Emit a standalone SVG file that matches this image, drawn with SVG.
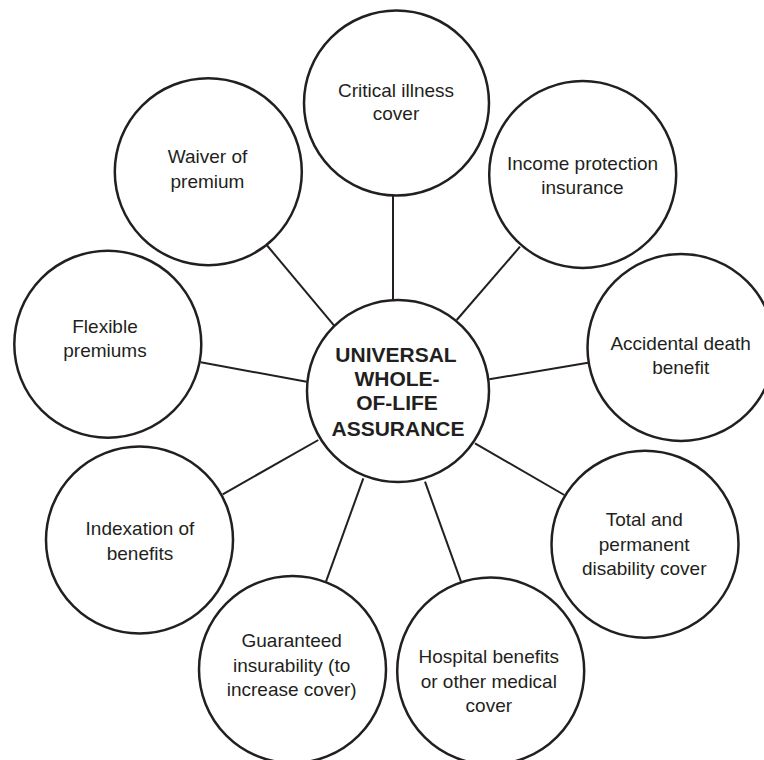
<svg xmlns="http://www.w3.org/2000/svg" width="764" height="760" viewBox="0 0 764 760">
<style>
.node circle{fill:#fff;stroke:#231f20;stroke-width:2.5}
.lbl{font-family:"Liberation Sans",Arial,sans-serif;font-size:19px;fill:#231f20;text-anchor:middle}
.hub{font-family:"Liberation Sans",Arial,sans-serif;font-size:21px;font-weight:bold;fill:#231f20;text-anchor:middle}
#connectors line{stroke:#231f20;stroke-width:2}
</style>
<rect width="764" height="760" fill="#fff"/>
<g id="connectors">
<line x1="393" y1="195" x2="393" y2="301"/>
<line x1="520" y1="246.7" x2="456.7" y2="320"/>
<line x1="588" y1="362.7" x2="489.3" y2="379.3"/>
<line x1="564.3" y1="495" x2="475" y2="443.3"/>
<line x1="461" y1="581.7" x2="425" y2="481.7"/>
<line x1="326" y1="581.7" x2="363.3" y2="478.3"/>
<line x1="222.7" y1="494.3" x2="318.3" y2="440"/>
<line x1="200.7" y1="362.3" x2="306.7" y2="381.7"/>
<line x1="266.7" y1="245" x2="335" y2="326.7"/>
</g>
<g id="hub" class="node">
<circle cx="398" cy="391" r="91"/>
<text class="hub" x="396" y="362">UNIVERSAL</text>
<text class="hub" x="397" y="386">WHOLE-</text>
<text class="hub" x="397" y="410">OF-LIFE</text>
<text class="hub" x="398" y="436">ASSURANCE</text>
</g>
<g id="critical-illness" class="node">
<circle cx="396.5" cy="103" r="92.5"/>
<text class="lbl" x="396" y="97">Critical illness</text>
<text class="lbl" x="396" y="120">cover</text>
</g>
<g id="income-protection" class="node">
<circle cx="582.7" cy="174.5" r="93.5"/>
<text class="lbl" x="582.5" y="170">Income protection</text>
<text class="lbl" x="582.5" y="194">insurance</text>
</g>
<g id="accidental-death" class="node">
<circle cx="681" cy="347.5" r="93.5"/>
<text class="lbl" x="680.7" y="350">Accidental death</text>
<text class="lbl" x="680.7" y="374">benefit</text>
</g>
<g id="total-permanent" class="node">
<circle cx="645" cy="544.2" r="93.5"/>
<text class="lbl" x="644.2" y="526">Total and</text>
<text class="lbl" x="644.2" y="550.5">permanent</text>
<text class="lbl" x="644.2" y="575">disability cover</text>
</g>
<g id="hospital-benefits" class="node">
<circle cx="490.7" cy="671" r="93.5"/>
<text class="lbl" x="488.8" y="663.3">Hospital benefits</text>
<text class="lbl" x="488.8" y="687.5">or other medical</text>
<text class="lbl" x="488.8" y="711.7">cover</text>
</g>
<g id="guaranteed-insurability" class="node">
<circle cx="292.5" cy="669.5" r="93.5"/>
<text class="lbl" x="291.7" y="647.3">Guaranteed</text>
<text class="lbl" x="291.7" y="671.7">insurability (to</text>
<text class="lbl" x="291.7" y="696">increase cover)</text>
</g>
<g id="indexation" class="node">
<circle cx="139.5" cy="540" r="93.5"/>
<text class="lbl" x="140" y="535">Indexation of</text>
<text class="lbl" x="140" y="560">benefits</text>
</g>
<g id="flexible-premiums" class="node">
<circle cx="107.8" cy="344.2" r="93.5"/>
<text class="lbl" x="105" y="332.7">Flexible</text>
<text class="lbl" x="105" y="356.7">premiums</text>
</g>
<g id="waiver-of-premium" class="node">
<circle cx="208.3" cy="171.7" r="93.5"/>
<text class="lbl" x="207.5" y="163.3">Waiver of</text>
<text class="lbl" x="207.5" y="187.5">premium</text>
</g>
</svg>
